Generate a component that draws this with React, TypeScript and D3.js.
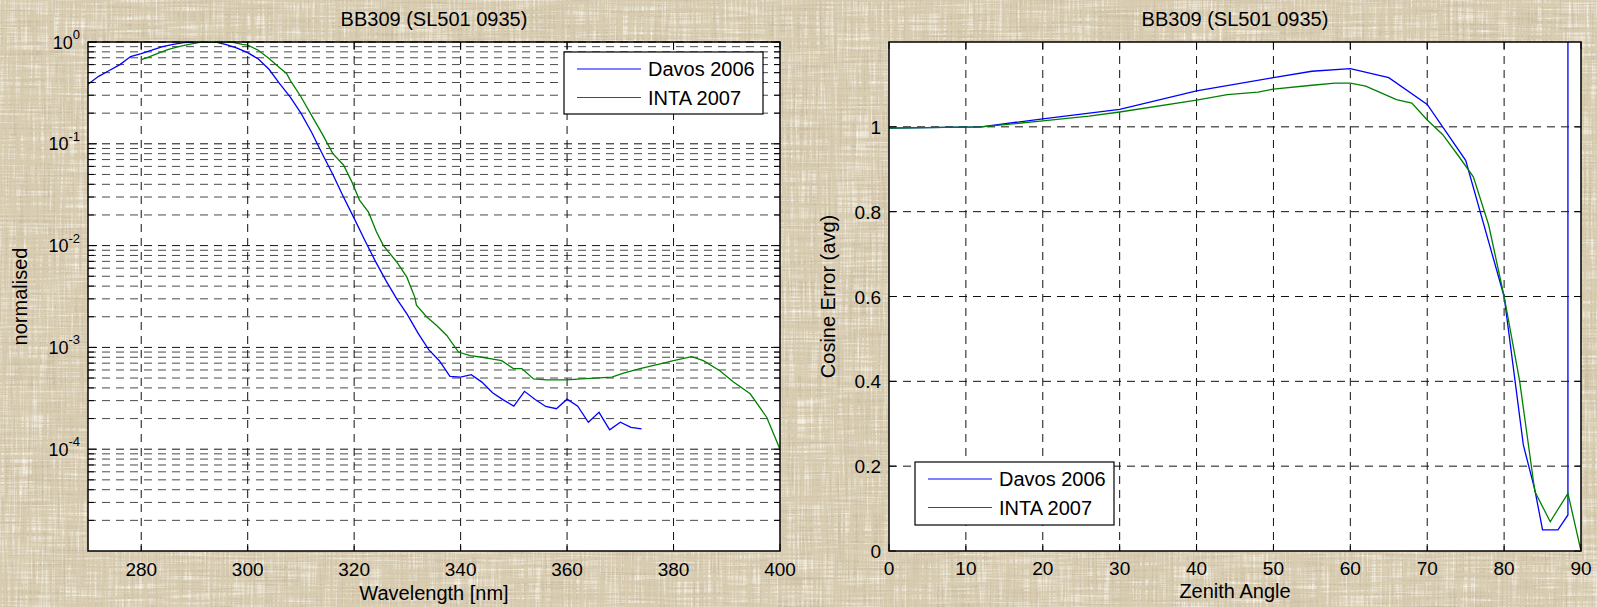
import * as d3 from "d3";

const WIDTH = 1597;
const HEIGHT = 607;
const FONT = '"Liberation Sans", Arial, Helvetica, sans-serif';

const TITLE = "BB309 (SL501 0935)";
const SERIES_NAMES = ["Davos 2006", "INTA 2007"];
const SERIES_COLORS = ["#0000ff", "#008000"];

// left panel: normalised spectral response (log scale)
const davosWavelength = [
  270, 272, 274, 276, 278, 280, 282, 284, 286, 288, 290, 292, 294, 296, 298, 300, 302, 304, 306,
  308, 310, 312, 314, 316, 318, 320, 322, 324, 326, 328, 330, 332, 334, 336, 338, 340, 342, 344,
  346, 348, 350, 352, 354, 356, 358, 360, 362, 364, 366, 368, 370, 372, 374
];
const davosNormalised = [
  0.384, 0.46, 0.525, 0.6, 0.72, 0.77, 0.83, 0.9, 0.95, 0.985, 1.0, 1.0, 0.995, 0.94, 0.87,
  0.787, 0.68, 0.54, 0.39, 0.288, 0.2, 0.13, 0.08, 0.05, 0.03, 0.0185, 0.0113, 0.007, 0.0045,
  0.003, 0.0021, 0.00138, 0.00095, 0.00074, 0.00052, 0.00051, 0.00054, 0.000456, 0.000358,
  0.000305, 0.000265, 0.00037, 0.000308, 0.000263, 0.00025, 0.00031, 0.000265, 0.000184,
  0.00023, 0.000155, 0.000184, 0.000164, 0.000158
];
const intaWavelength = [
  280, 281, 283, 285, 287, 289, 291, 293, 297, 299, 300, 302, 304, 306, 307.3, 308, 310, 312,
  314, 316, 318, 319.5, 321, 322.7, 324.2, 325.5, 328, 329.9, 331.4, 331.7, 333.6, 335.5, 337.4,
  339.6, 341.8, 344, 345.8, 347.7, 349.9, 351.5, 353.7, 356.2, 359.9, 362.7, 368.4, 370.6, 373.7,
  377.5, 380, 383.4, 385.6, 388.7, 391.2, 394.4, 397.5, 400
];
const intaNormalised = [
  0.67, 0.7, 0.77, 0.84, 0.9, 0.95, 0.99, 1.0, 1.0, 0.95, 0.93, 0.83, 0.69, 0.56, 0.49, 0.42,
  0.29, 0.19, 0.125, 0.08, 0.062, 0.043, 0.028, 0.0213, 0.0136, 0.01, 0.0069, 0.0049, 0.0031,
  0.0026, 0.002, 0.00164, 0.00131, 0.0009, 0.00083, 0.0008, 0.00077, 0.00074, 0.00062, 0.00062,
  0.00049, 0.00048, 0.00048, 0.00049, 0.00051, 0.00056, 0.00062, 0.00069, 0.00074, 0.00081,
  0.00074, 0.00059, 0.00046, 0.00035, 0.000206, 0.0001
];
const wavelengthTicks = [280, 300, 320, 340, 360, 380, 400];
const decadeExponents = [0, -1, -2, -3, -4];

// right panel: cosine error vs zenith angle
const davosZenith = [0, 12, 20, 30, 40, 50, 55, 60, 65, 70, 75, 80, 82.5, 84, 85, 87, 88.3, 88.3];
const davosCosine = [
  0.997, 1.0, 1.019, 1.041, 1.085, 1.116, 1.131, 1.137, 1.116, 1.053, 0.921, 0.6, 0.25, 0.144,
  0.05, 0.05, 0.085, 3.0
];
const intaZenith = [
  0, 12, 20, 26, 30, 40, 44, 48, 50, 55, 58, 60, 62, 64, 66, 68, 70, 72, 74, 76, 78, 80, 82, 84,
  86, 88.3, 90
];
const intaCosine = [
  0.997, 1.0, 1.014, 1.025, 1.035, 1.063, 1.076, 1.082, 1.089, 1.098, 1.103, 1.103, 1.096, 1.08,
  1.064, 1.056, 1.016, 0.982, 0.933, 0.882, 0.768, 0.6, 0.403, 0.14, 0.069, 0.136, 0
];
const zenithTicks = [0, 10, 20, 30, 40, 50, 60, 70, 80, 90];
const cosineTicks = [0, 0.2, 0.4, 0.6, 0.8, 1];

const TOP = 42;
const BOTTOM = 551;
const LEFT_X = [88, 780];
const RIGHT_X = [889, 1581];

const GRID_DASH = "8 6";
const GRID_DARK = "#111";
const GRID_MINOR = "#4a4a4a";

function Legend({ x, y, w, h }) {
  return (
    <g>
      <rect x={x} y={y} width={w} height={h} fill="#fff" stroke="#000" strokeWidth={1.2} />
      {SERIES_NAMES.map((name, i) => {
        const ry = y + 17 + i * 28.5;
        return (
          <g key={name}>
            <line x1={x + 13} x2={x + 77} y1={ry} y2={ry} stroke={SERIES_COLORS[i]} strokeWidth={1.2} />
            <text x={x + 84} y={ry + 7} fontSize={20}>
              {name}
            </text>
          </g>
        );
      })}
    </g>
  );
}

function SpectrumPanel() {
  const x = d3.scaleLinear().domain([270, 400]).range(LEFT_X);
  const y = d3.scaleLog().domain([1e-5, 1]).range([BOTTOM, TOP]);
  const minorValues = [];
  [-5, -4, -3, -2, -1].forEach((e) => {
    for (let m = 2; m <= 9; m++) minorValues.push(m * Math.pow(10, e));
  });
  const line = d3
    .line()
    .x((d) => x(d[0]))
    .y((d) => y(d[1]));
  const davos = line(davosWavelength.map((w, i) => [w, davosNormalised[i]]));
  const inta = line(intaWavelength.map((w, i) => [w, intaNormalised[i]]));
  const [x0, x1] = LEFT_X;
  const cx = (x0 + x1) / 2;

  return (
    <g>
      <defs>
        <clipPath id="clipLeft">
          <rect x={x0} y={TOP} width={x1 - x0} height={BOTTOM - TOP} />
        </clipPath>
      </defs>
      <rect x={x0} y={TOP} width={x1 - x0} height={BOTTOM - TOP} fill="#fff" />
      {minorValues.map((v) => (
        <line key={v} x1={x0} x2={x1} y1={y(v)} y2={y(v)} stroke={GRID_MINOR} strokeDasharray={GRID_DASH} />
      ))}
      {decadeExponents.map((e) => (
        <line key={e} x1={x0} x2={x1} y1={y(Math.pow(10, e))} y2={y(Math.pow(10, e))} stroke={GRID_DARK} strokeDasharray={GRID_DASH} />
      ))}
      {wavelengthTicks
        .filter((t) => t < 400)
        .map((t) => (
          <line key={t} x1={x(t)} x2={x(t)} y1={TOP} y2={BOTTOM} stroke={GRID_DARK} strokeDasharray={GRID_DASH} />
        ))}
      <g clipPath="url(#clipLeft)" fill="none" strokeWidth={1.3}>
        <path d={davos} stroke={SERIES_COLORS[0]} />
        <path d={inta} stroke={SERIES_COLORS[1]} />
      </g>
      {/* ticks */}
      {minorValues.map((v) => (
        <g key={"t" + v} stroke="#000">
          <line x1={x0} x2={x0 + 6} y1={y(v)} y2={y(v)} />
          <line x1={x1} x2={x1 - 6} y1={y(v)} y2={y(v)} />
        </g>
      ))}
      {decadeExponents.map((e) => (
        <g key={"d" + e} stroke="#000">
          <line x1={x0} x2={x0 + 9} y1={y(Math.pow(10, e))} y2={y(Math.pow(10, e))} />
          <line x1={x1} x2={x1 - 9} y1={y(Math.pow(10, e))} y2={y(Math.pow(10, e))} />
        </g>
      ))}
      {wavelengthTicks.map((t) => (
        <g key={"x" + t} stroke="#000">
          <line x1={x(t)} x2={x(t)} y1={BOTTOM} y2={BOTTOM - 7} />
          <line x1={x(t)} x2={x(t)} y1={TOP} y2={TOP + 7} />
        </g>
      ))}
      <rect x={x0} y={TOP} width={x1 - x0} height={BOTTOM - TOP} fill="none" stroke="#000" strokeWidth={1.5} />
      {wavelengthTicks.map((t) => (
        <text key={"l" + t} x={x(t)} y={576} fontSize={19} textAnchor="middle">
          {t}
        </text>
      ))}
      {decadeExponents.map((e) => (
        <text key={"e" + e} x={x0 - 8} y={y(Math.pow(10, e)) + 6.5} fontSize={18} textAnchor="end">
          10
          <tspan dy={-9.5} fontSize={13}>
            {e}
          </tspan>
        </text>
      ))}
      <text x={cx} y={25.5} fontSize={20} textAnchor="middle">
        {TITLE}
      </text>
      <text x={cx} y={600} fontSize={20} textAnchor="middle">
        Wavelength [nm]
      </text>
      <text transform={`translate(27,${(TOP + BOTTOM) / 2}) rotate(-90)`} fontSize={20} textAnchor="middle">
        normalised
      </text>
      <Legend x={564} y={52} w={199} h={62} />
    </g>
  );
}

function CosinePanel() {
  const x = d3.scaleLinear().domain([0, 90]).range(RIGHT_X);
  const y = d3.scaleLinear().domain([0, 1.2]).range([BOTTOM, TOP]);
  const line = d3
    .line()
    .x((d) => x(d[0]))
    .y((d) => y(d[1]));
  const davos = line(davosZenith.map((z, i) => [z, davosCosine[i]]));
  const inta = line(intaZenith.map((z, i) => [z, intaCosine[i]]));
  const [x0, x1] = RIGHT_X;
  const cx = (x0 + x1) / 2;

  return (
    <g>
      <defs>
        <clipPath id="clipRight">
          <rect x={x0} y={TOP} width={x1 - x0} height={BOTTOM - TOP} />
        </clipPath>
      </defs>
      <rect x={x0} y={TOP} width={x1 - x0} height={BOTTOM - TOP} fill="#fff" />
      {cosineTicks
        .filter((t) => t > 0)
        .map((t) => (
          <line key={t} x1={x0} x2={x1} y1={y(t)} y2={y(t)} stroke={GRID_DARK} strokeDasharray={GRID_DASH} />
        ))}
      {zenithTicks
        .filter((t) => t > 0 && t < 90)
        .map((t) => (
          <line key={t} x1={x(t)} x2={x(t)} y1={TOP} y2={BOTTOM} stroke={GRID_DARK} strokeDasharray={GRID_DASH} />
        ))}
      <g clipPath="url(#clipRight)" fill="none" strokeWidth={1.3}>
        <path d={davos} stroke={SERIES_COLORS[0]} />
        <path d={inta} stroke={SERIES_COLORS[1]} />
      </g>
      {cosineTicks.map((t) => (
        <g key={"t" + t} stroke="#000">
          <line x1={x0} x2={x0 + 7} y1={y(t)} y2={y(t)} />
          <line x1={x1} x2={x1 - 7} y1={y(t)} y2={y(t)} />
        </g>
      ))}
      {zenithTicks.map((t) => (
        <g key={"x" + t} stroke="#000">
          <line x1={x(t)} x2={x(t)} y1={BOTTOM} y2={BOTTOM - 7} />
          <line x1={x(t)} x2={x(t)} y1={TOP} y2={TOP + 7} />
        </g>
      ))}
      <rect x={x0} y={TOP} width={x1 - x0} height={BOTTOM - TOP} fill="none" stroke="#000" strokeWidth={1.5} />
      {zenithTicks.map((t) => (
        <text key={"l" + t} x={x(t)} y={575} fontSize={19} textAnchor="middle">
          {t}
        </text>
      ))}
      {cosineTicks.map((t) => (
        <text key={"y" + t} x={x0 - 8} y={y(t) + 7} fontSize={19} textAnchor="end">
          {t}
        </text>
      ))}
      <text x={cx} y={25.5} fontSize={20} textAnchor="middle">
        {TITLE}
      </text>
      <text x={cx} y={598} fontSize={20} textAnchor="middle">
        Zenith Angle
      </text>
      <text transform={`translate(835,${(TOP + BOTTOM) / 2}) rotate(-90)`} fontSize={20} textAnchor="middle">
        Cosine Error (avg)
      </text>
      <Legend x={915} y={462} w={199} h={63} />
    </g>
  );
}

export default function App() {
  return (
    <svg
      width={WIDTH}
      height={HEIGHT}
      viewBox={`0 0 ${WIDTH} ${HEIGHT}`}
      style={{ position: "absolute", left: 0, top: 0, display: "block" }}
      fontFamily={FONT}
    >
      <defs>
        <filter id="darkWeave" x="0" y="0" width="100%" height="100%">
          <feTurbulence type="fractalNoise" baseFrequency="0.5 0.012" numOctaves="3" seed="3" result="v" />
          <feTurbulence type="fractalNoise" baseFrequency="0.012 0.5" numOctaves="3" seed="8" result="h" />
          <feComposite in="v" in2="h" operator="arithmetic" k2="0.5" k3="0.5" result="n" />
          <feColorMatrix
            in="n"
            type="matrix"
            values="0 0 0 0 0.55  0 0 0 0 0.47  0 0 0 0 0.34  -3 0 0 0 1.55"
          />
        </filter>
        <filter id="lightWeave" x="0" y="0" width="100%" height="100%">
          <feTurbulence type="fractalNoise" baseFrequency="0.45 0.018" numOctaves="3" seed="11" result="v" />
          <feTurbulence type="fractalNoise" baseFrequency="0.018 0.45" numOctaves="3" seed="17" result="h" />
          <feComposite in="v" in2="h" operator="arithmetic" k2="0.5" k3="0.5" result="n" />
          <feColorMatrix
            in="n"
            type="matrix"
            values="0 0 0 0 0.96  0 0 0 0 0.93  0 0 0 0 0.86  3 0 0 0 -1.45"
          />
        </filter>
      </defs>
      <rect width={WIDTH} height={HEIGHT} fill="#d8ccb1" />
      <rect width={WIDTH} height={HEIGHT} filter="url(#darkWeave)" />
      <rect width={WIDTH} height={HEIGHT} filter="url(#lightWeave)" />
      <SpectrumPanel />
      <CosinePanel />
    </svg>
  );
}
